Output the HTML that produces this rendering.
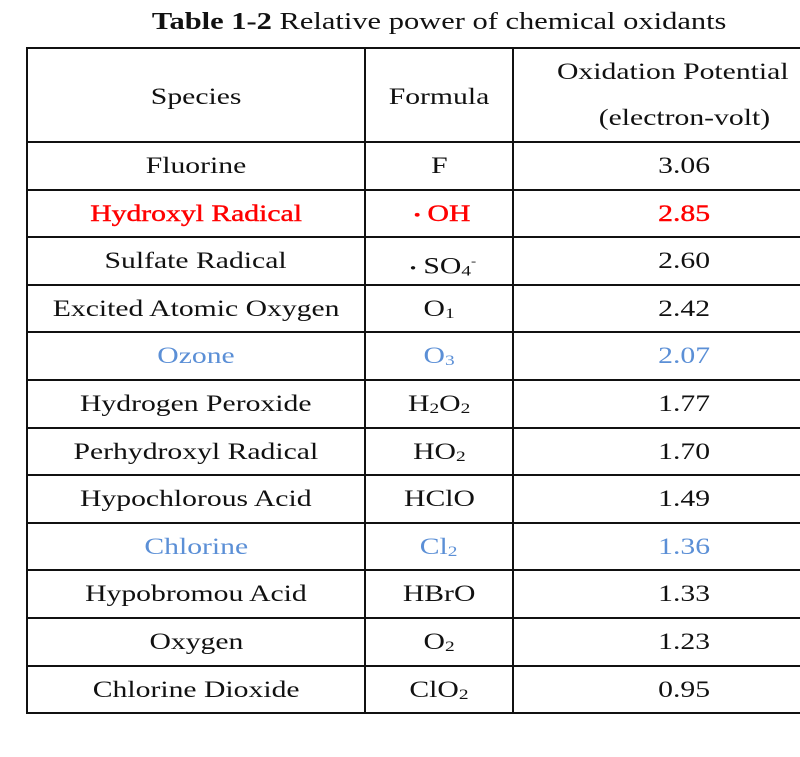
<!DOCTYPE html>
<html><head><style>
body{margin:0;width:800px;height:757px;background:#fff;position:relative;overflow:hidden;font-family:"Liberation Serif","DejaVu Serif","Noto Sans CJK JP",serif;}
.l{position:absolute;background:#111;}
.t{position:absolute;font-size:23px;text-align:center;line-height:26px;color:#111;white-space:nowrap;}
.t span{display:inline-block;transform:scaleX(1.29);}
.r{color:#f00;-webkit-text-stroke:0.4px #f00}.b{color:#5b8fd6}
sub{font-size:15px;vertical-align:-2px;line-height:0}
.dot{font-family:"Noto Sans CJK JP",sans-serif;font-size:16px;}
</style></head><body>
<div class="t" style="left:153px;top:9px;width:572px;font-size:24px"><span style="transform:scaleX(1.27)"><b>Table 1-2</b> Relative power of chemical oxidants</span></div>
<div class="l" style="left:26px;top:47px;width:774px;height:2px"></div>
<div class="l" style="left:26px;top:47px;width:2px;height:667px"></div>
<div class="l" style="left:364px;top:47px;width:2px;height:667px"></div>
<div class="l" style="left:512px;top:47px;width:2px;height:667px"></div>
<div id="rows"></div>
<div class="t" style="left:28px;top:84px;width:336px"><span>Species</span></div>
<div class="t" style="left:366px;top:84px;width:146px"><span>Formula</span></div>
<div class="t" style="left:557px;top:59px;text-align:left"><span style="transform-origin:0 0">Oxidation Potential</span></div>
<div class="t" style="left:514px;top:105px;width:340px"><span>(electron-volt)</span></div>
<script>
var dot='<span class="dot" style="transform:none">&#12539;</span>';
var d=[["Fluorine","F","3.06",""],["Hydroxyl Radical",dot+"OH","2.85","r"],["Sulfate Radical",dot+"SO<sub>4</sub><sup style='font-size:12px'>-</sup>","2.60",""],["Excited Atomic Oxygen","O<sub>1</sub>","2.42",""],["Ozone","O<sub>3</sub>","2.07","b"],["Hydrogen Peroxide","H<sub>2</sub>O<sub>2</sub>","1.77",""],["Perhydroxyl Radical","HO<sub>2</sub>","1.70",""],["Hypochlorous Acid","HClO","1.49",""],["Chlorine","Cl<sub>2</sub>","1.36","b"],["Hypobromou Acid","HBrO","1.33",""],["Oxygen","O<sub>2</sub>","1.23",""],["Chlorine Dioxide","ClO<sub>2</sub>","0.95",""]];
var h="";
for(var i=0;i<13;i++){var y=Math.round(141+i*47.6);h+='<div class="l" style="left:26px;top:'+y+'px;width:774px;height:2px"></div>';}
for(var i=0;i<12;i++){var y=Math.round(141+i*47.6)+12;var c=d[i][3];
h+='<div class="t '+c+'" style="left:28px;top:'+y+'px;width:336px"><span>'+d[i][0]+'</span></div>';
h+='<div class="t '+c+'" style="left:366px;top:'+y+'px;width:146px"><span>'+d[i][1]+'</span></div>';
h+='<div class="t '+c+'" style="left:514px;top:'+y+'px;width:340px"><span>'+d[i][2]+'</span></div>';}
document.getElementById("rows").innerHTML=h;
</script>
</body></html>
